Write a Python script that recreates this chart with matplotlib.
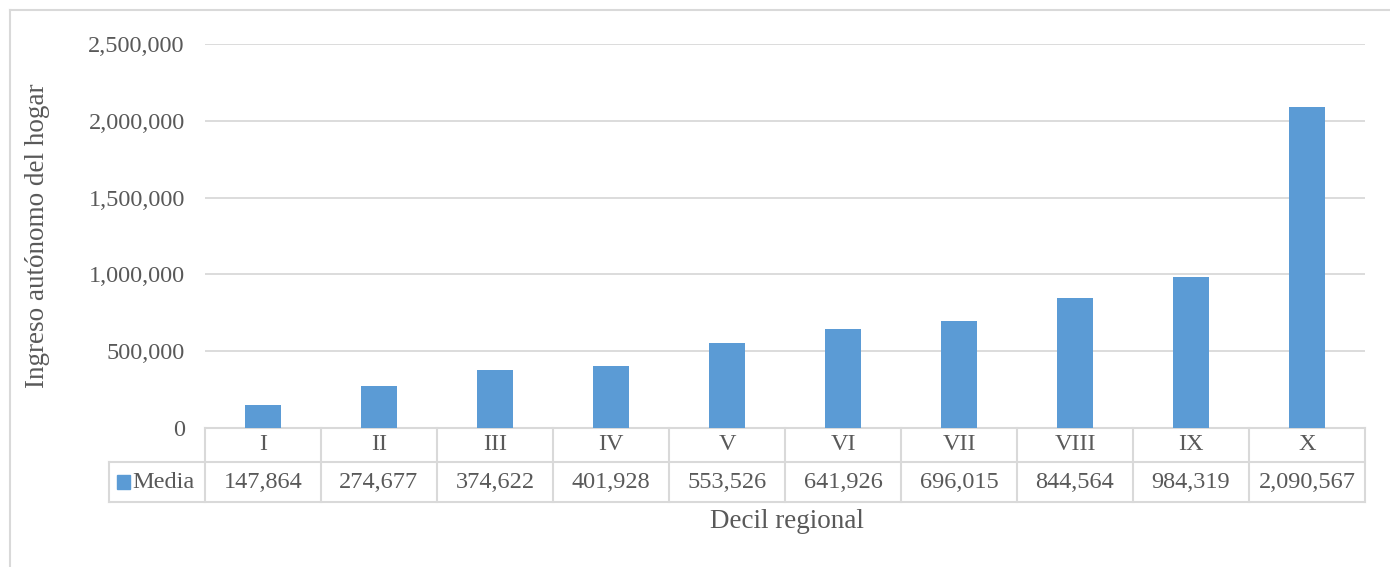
import matplotlib.pyplot as plt
import matplotlib.transforms as mtransforms
from matplotlib.patches import Rectangle

deciles = ['I', 'II', 'III', 'IV', 'V', 'VI', 'VII', 'VIII', 'IX', 'X']
media = [147864, 274677, 374622, 401928, 553526, 641926, 696015, 844564, 984319, 2090567]
serie = 'Media'

azul = '#5B9BD5'
gris_txt = '#595959'
gris_lin = '#D9D9D9'

plt.rcParams['font.family'] = ['Liberation Serif', 'DejaVu Serif']
plt.rcParams['font.size'] = 17.5

fig = plt.figure(figsize=(13.9, 5.67), dpi=100)
ax = fig.add_axes([205 / 1390, 1 - 428 / 567, 1160 / 1390, 384 / 567])

x = list(range(len(deciles)))
ax.bar(x, media, width=0.31, color=azul, zorder=3)
ax.set_xlim(-0.5, len(deciles) - 0.5)
ax.set_ylim(0, 2500000)
ax.set_yticks([0, 500000, 1000000, 1500000, 2000000, 2500000])
ax.set_yticklabels([f'{v:,}' for v in ax.get_yticks().astype(int)], color=gris_txt)
ax.tick_params(axis='y', length=0, pad=14.5)
ax.set_xticks([])
ax.yaxis.grid(True, color=gris_lin, linewidth=1.3)
for s in ax.spines.values():
    s.set_visible(False)

# tabla de datos
tr = mtransforms.blended_transform_factory(ax.transData, ax.transAxes)
h = 384.0
r1 = -34 / h
r2 = -74 / h
leg_x = (109 - 205) / 1160 * 10 - 0.5
kw = dict(color=gris_lin, linewidth=1.5, clip_on=False, transform=tr)
ax.plot([-0.5, 9.5], [0, 0], **kw)
ax.plot([leg_x, 9.5], [r1, r1], **kw)
ax.plot([leg_x, 9.5], [r2, r2], **kw)
ax.plot([leg_x, leg_x], [r1, r2], **kw)
for i in range(len(deciles) + 1):
    ax.plot([i - 0.5, i - 0.5], [0, r2], **kw)
for i, (d, v) in enumerate(zip(deciles, media)):
    ax.text(i, r1 / 2, d, ha='center', va='center', color=gris_txt, transform=tr)
    ax.text(i, (r1 + r2) / 2, f'{v:,}', ha='center', va='center', color=gris_txt, transform=tr)
ax.add_patch(Rectangle((leg_x + 0.07, (r1 + r2) / 2 - 0.018), 0.11, 0.036,
                       color=azul, clip_on=False, transform=tr))
ax.text(leg_x + 0.2, (r1 + r2) / 2, serie, ha='left', va='center', color=gris_txt, transform=tr)

fig.text(787 / 1390, 1 - 522 / 567, 'Decil regional', ha='center', va='center',
         color=gris_txt, fontsize=19.5)
fig.text(38 / 1390, 1 - 236 / 567, 'Ingreso autónomo del hogar', ha='center', va='center',
         rotation=90, color=gris_txt, fontsize=19.5)

# marco del gráfico
fig.add_artist(plt.Line2D([10 / 1390, 10 / 1390], [0, 1 - 10 / 567], color=gris_lin,
                          linewidth=1.5, transform=fig.transFigure))
fig.add_artist(plt.Line2D([10 / 1390, 1], [1 - 10 / 567, 1 - 10 / 567], color=gris_lin,
                          linewidth=1.5, transform=fig.transFigure))

fig.savefig('out.png', dpi=100)
